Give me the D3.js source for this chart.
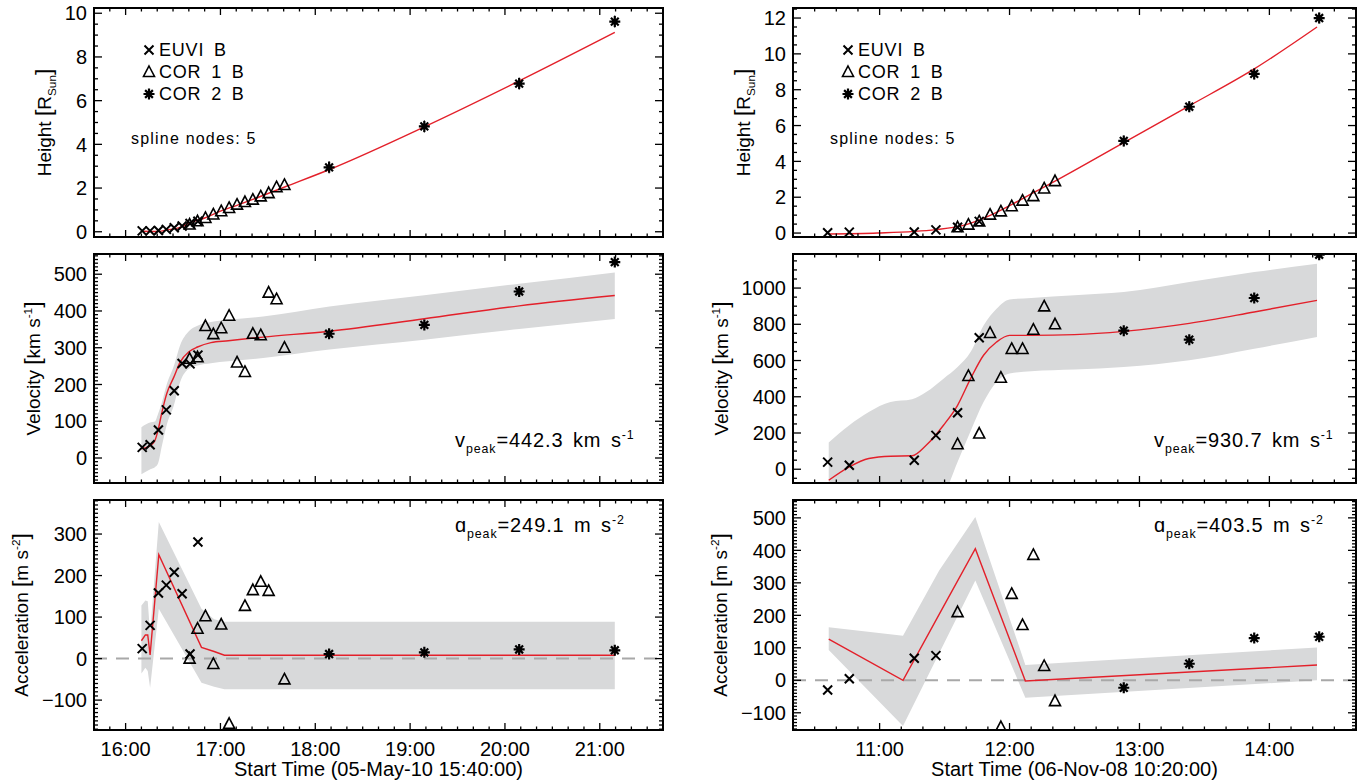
<!DOCTYPE html>
<html>
<head>
<meta charset="utf-8">
<script src="https://cdn.jsdelivr.net/npm/d3@7"></script>
<style>
  body { margin: 0; background: #fff; }
  svg { display: block; font-family: "Liberation Sans", Arial, sans-serif; }
</style>
</head>
<body>
<svg id="chart" width="1368" height="782"></svg>
<script>
// ---- left event: 05-May-10 ----
const leftEuviTime = ["16:10:30","16:15:30","16:20:45","16:25:45","16:30:45","16:35:45","16:40:45","16:45:45"];
const leftEuviHeight = [0.04, 0.04, 0.06, 0.11, 0.18, 0.26, 0.38, 0.48];
const leftEuviVelocity = [29, 36, 76, 131, 183, 257, 256, 280];
const leftEuviAccel = [24, 80, 158, 177, 208, 156, 11, 281];

const leftCor1Time = ["16:40:30","16:45:30","16:50:30","16:55:30","17:00:30","17:05:30","17:10:30",
                      "17:15:30","17:20:30","17:25:30","17:30:30","17:35:30","17:40:30"];
const leftCor1Height = [0.33, 0.48, 0.63, 0.79, 0.94, 1.09, 1.24, 1.36, 1.47, 1.62, 1.77, 2.04, 2.14];
const leftCor1Velocity = [270, 274, 359, 337, 353, 387, 260, 234, 338, 334, 450, 432, 300];
const leftCor1Accel = [0, 72, 102, -13, 82, -157, null, 127, 165, 185, 163, null, -50];

const leftCor2Time = ["18:08:45","19:09:00","20:09:00","21:09:30"];
const leftCor2Height = [2.95, 4.82, 6.78, 9.62];
const leftCor2HeightErr = [0.28, 0.28, 0.28, 0.28];
const leftCor2Velocity = [338, 362, 453, 533];
const leftCor2Accel = [11, 15, 22, 20];

const leftFitHTime = ["16:10:00","16:20:00","16:26:00","16:35:00","16:40:30","16:50:00","17:00:00",
                      "17:10:00","17:20:00","17:41:00","18:09:00","19:09:00","20:09:00","21:09:30"];
const leftFitHeight = [0.02, 0.01, 0.08, 0.21, 0.41, 0.63, 0.94, 1.2, 1.47, 2.06, 2.85, 4.8, 6.9, 9.12];

const leftFitVTime = ["16:10:00","16:16:00","16:18:30","16:20:30","16:23:00","16:26:00","16:30:30","16:34:30",
                      "16:40:00","16:45:30","16:54:00","17:05:00","17:27:00","18:09:00","19:09:00","20:09:00","21:09:30"];
const leftFitVelocity = [25, 35, 47, 75, 125, 175, 220, 261, 289, 302, 314, 319, 329, 345, 379, 414, 442];
const leftFitVUpper = [84, 97, 99, 120, 152, 200, 250, 307, 345, 360, 370, 376, 385, 412, 443, 474, 505];
const leftFitVLower = [-44, -30, -25, -15, 34, 90, 143, 207, 243, 252, 258, 263, 272, 295, 322, 351, 378];

const leftFitATime = ["16:10:00","16:12:30","16:14:00","16:15:30","16:21:00","16:48:00","16:56:00","17:02:30","21:09:30"];
const leftFitAccel = [43, 57, 57, 9, 250, 27, 17, 8, 8];
const leftFitAUpper = [128, 140, 138, 60, 329, 120, 95, 89, 89];
const leftFitALower = [-36, -22, -30, -70, 120, -58, -68, -74, -74];

// ---- right event: 06-Nov-08 ----
const rightEuviTime = ["10:36:00","10:46:00","11:16:00","11:26:00","11:36:00","11:46:00"];
const rightEuviHeight = [0.02, 0.05, 0.06, 0.18, 0.32, 0.65];
const rightEuviVelocity = [39, 22, 50, 187, 312, 726];
const rightEuviAccel = [-30, 5, 68, 76, null, null];

const rightCor1Time = ["11:36:00","11:41:00","11:46:00","11:51:00","11:56:00","12:01:00","12:06:00","12:11:00","12:16:00","12:21:00"];
const rightCor1Height = [0.32, 0.47, 0.65, 1.03, 1.21, 1.5, 1.81, 2.06, 2.49, 2.9];
const rightCor1Velocity = [138, 515, 197, 752, 505, 664, 664, 770, 899, 800];
const rightCor1Accel = [210, null, null, null, -144, 266, 170, 386, 44, -64];

const rightCor2Time = ["12:52:45","13:23:00","13:53:00","14:23:00"];
const rightCor2Height = [5.14, 7.05, 8.88, 12.0];
const rightCor2HeightErr = [0.3, 0.3, 0.3, 0.3];
const rightCor2Velocity = [765, 715, 945, 1184];
const rightCor2Accel = [-23, 51, 130, 134];

const rightFitHTime = ["10:36:30","10:59:00","11:26:00","11:40:00","11:50:00","12:00:00","12:10:00","12:21:00",
                       "12:52:45","13:23:00","13:53:00","14:22:00"];
const rightFitHeight = [-0.05, 0.0, 0.19, 0.47, 0.93, 1.53, 2.19, 2.9, 5.05, 7.1, 9.16, 11.5];

const rightFitVTime = ["10:36:30","10:46:00","10:55:00","11:05:00","11:15:00","11:21:30","11:29:30","11:36:00","11:42:00",
                       "11:48:00","11:54:00","12:00:00","12:10:00","12:30:00","12:52:45","13:23:00","13:53:00","14:22:00"];
const rightFitVelocity = [-61, 13, 59, 72, 74, 132, 243, 353, 500, 629, 702, 739, 739, 743, 761, 805, 868, 932];
const rightFitVUpper = [147, 243, 316, 371, 386, 426, 500, 564, 647, 794, 886, 937, 945, 960, 978, 1033, 1088, 1134];
const rightFitVLower = [-600, -520, -450, -380, -300, -230, -146, 40, 210, 371, 482, 528, 541, 550, 564, 601, 665, 730];

const rightFitATime = ["10:36:30","11:10:48","11:27:30","11:44:12","12:07:18","14:22:00"];
const rightFitAccel = [127, 0, 203, 405, -2, 47];
const rightFitAUpper = [163, 137, 338, 503, 47, 101];
const rightFitALower = [93, -141, 83, 307, -54, 0];

// axis ticks
const heightTicksLeft = [0, 2, 4, 6, 8, 10];
const heightTicksRight = [0, 2, 4, 6, 8, 10, 12];
const velocityTicksLeft = [0, 100, 200, 300, 400, 500];
const velocityTicksRight = [0, 200, 400, 600, 800, 1000];
const accelTicksLeft = [-100, 0, 100, 200, 300];
const accelTicksRight = [-100, 0, 100, 200, 300, 400, 500];

const legendLabels = ["EUVI B", "COR 1 B", "COR 2 B"];

// ---------------------------------------------------------------
const svg = d3.select("#chart");
const RED = "#e3202a";
const BAND = "#d8d9da";
let clipCount = 0;

const dayParser = day => t => d3.timeParse("%Y-%m-%d %H:%M:%S")(`${day} ${t}`);
const pL = dayParser("2010-05-05");
const pR = dayParser("2008-11-06");

function zipPts(times, vals, parse, err) {
    return times.map((t, i) => ({ t: parse(t), v: vals[i], e: err ? err[i] : 0 }))
        .filter(d => d.v !== null);
}

function marker(g, type, cx, cy) {
    if (type === "x") {
        g.append("path")
            .attr("d", `M${cx - 4.5},${cy - 4.5}L${cx + 4.5},${cy + 4.5}M${cx - 4.5},${cy + 4.5}L${cx + 4.5},${cy - 4.5}`)
            .attr("stroke", "#000").attr("stroke-width", 2).attr("fill", "none");
    } else if (type === "tri") {
        g.append("path")
            .attr("d", `M${cx},${cy - 6}L${cx + 5.5},${cy + 4.5}L${cx - 5.5},${cy + 4.5}Z`)
            .attr("stroke", "#000").attr("stroke-width", 1.6).attr("fill", "none");
    } else {
        const r = 5.5;
        let d = "";
        for (let k = 0; k < 4; k++) {
            const a = k * Math.PI / 4;
            d += `M${cx - r * Math.cos(a)},${cy - r * Math.sin(a)}L${cx + r * Math.cos(a)},${cy + r * Math.sin(a)}`;
        }
        g.append("path").attr("d", d).attr("stroke", "#000").attr("stroke-width", 2.2).attr("fill", "none");
    }
}

// text with sub/superscript segments: [text, "n"|"sub"|"sup"|"big"]
function richText(sel, segs, size) {
    let shift = 0;
    segs.forEach(([txt, kind]) => {
        const ts = sel.append("tspan").text(txt);
        let target = 0;
        if (kind === "sub") { ts.attr("font-size", size * 0.62); target = size * 0.28; }
        else if (kind === "sup") { ts.attr("font-size", size * 0.62); target = -size * 0.42; }
        else if (kind === "big") ts.attr("font-size", size * 1.2);
        else ts.attr("font-size", size);
        ts.attr("dy", target - shift);
        shift = target;
    });
}

function panel(o) {
    const x = d3.scaleTime().domain(o.xDomain).range([o.x0, o.x1]);
    const y = d3.scaleLinear().domain(o.yDomain).range([o.y1, o.y0]);
    const g = svg.append("g");
    const clipId = "clip" + (clipCount++);
    svg.append("clipPath").attr("id", clipId)
        .append("rect").attr("x", o.x0).attr("y", o.y0)
        .attr("width", o.x1 - o.x0).attr("height", o.y1 - o.y0);
    const plot = g.append("g").attr("clip-path", `url(#${clipId})`);

    if (o.band) {
        plot.append("path").datum(o.band)
            .attr("d", d3.area().x(d => x(d.t)).y0(d => y(d.lo)).y1(d => y(d.hi)).curve(o.curve))
            .attr("fill", BAND);
    }
    if (o.zero) {
        plot.append("line")
            .attr("x1", o.x0).attr("x2", o.x1).attr("y1", y(0)).attr("y2", y(0))
            .attr("stroke", "#a8a8a8").attr("stroke-width", 2).attr("stroke-dasharray", "13,9");
    }
    plot.append("path").datum(o.fit)
        .attr("d", d3.line().x(d => x(d.t)).y(d => y(d.v)).curve(o.curve))
        .attr("fill", "none").attr("stroke", RED).attr("stroke-width", 1.4);

    o.series.forEach(s => {
        s.data.forEach(d => {
            if (d.e) {
                plot.append("line")
                    .attr("x1", x(d.t)).attr("x2", x(d.t))
                    .attr("y1", y(d.v - d.e)).attr("y2", y(d.v + d.e))
                    .attr("stroke", "#000").attr("stroke-width", 1);
            }
            marker(plot, s.type, x(d.t), y(d.v));
        });
    });

    // ticks on all four sides, pointing in
    const tk = g.append("g").attr("stroke", "#000").attr("stroke-width", 1.3);
    const xMaj = x.ticks(d3.timeHour.every(1));
    const xMin = x.ticks(d3.timeMinute.every(o.xMinor));
    xMin.forEach(t => {
        const len = xMaj.some(m => +m === +t) ? 7 : 3.5;
        tk.append("line").attr("x1", x(t)).attr("x2", x(t)).attr("y1", o.y1).attr("y2", o.y1 - len);
        tk.append("line").attr("x1", x(t)).attr("x2", x(t)).attr("y1", o.y0).attr("y2", o.y0 + len);
    });
    const [ylo, yhi] = o.yDomain;
    const yMin = d3.range(Math.ceil(ylo / o.yMinor) * o.yMinor, yhi, o.yMinor);
    yMin.forEach(v => {
        const len = o.yTicks.some(m => Math.abs(m - v) < 1e-6) ? 8 : 4;
        tk.append("line").attr("y1", y(v)).attr("y2", y(v)).attr("x1", o.x0).attr("x2", o.x0 + len);
        tk.append("line").attr("y1", y(v)).attr("y2", y(v)).attr("x1", o.x1).attr("x2", o.x1 - len);
    });

    g.append("rect").attr("x", o.x0).attr("y", o.y0)
        .attr("width", o.x1 - o.x0).attr("height", o.y1 - o.y0)
        .attr("fill", "none").attr("stroke", "#000").attr("stroke-width", 2);

    // y tick labels
    const yLab = g.selectAll(null).data(o.yTicks).enter().append("text")
        .attr("x", o.x0 - 7).attr("y", d => y(d)).attr("dy", "0.36em")
        .attr("text-anchor", "end").attr("font-size", 20)
        .text(d => d < 0 ? "\u2212" + Math.abs(d) : d);
    const maxW = d3.max(yLab.nodes(), n => n.getComputedTextLength());

    if (o.xLabels) {
        const fmt = d3.timeFormat("%H:%M");
        g.selectAll(null).data(xMaj).enter().append("text")
            .attr("x", d => x(d)).attr("y", o.y1 + 26)
            .attr("text-anchor", "middle").attr("font-size", 20)
            .text(fmt);
        g.append("text")
            .attr("x", (o.x0 + o.x1) / 2).attr("y", o.y1 + 46)
            .attr("text-anchor", "middle").attr("font-size", 20)
            .text(o.xTitle);
    }

    // y title, placed just left of the widest tick label
    const yt = g.append("text")
        .attr("transform", `translate(${o.x0 - 7 - maxW - 14},${(o.y0 + o.y1) / 2}) rotate(-90)`)
        .attr("text-anchor", "middle");
    richText(yt, o.yTitle, 19);

    if (o.legend) {
        const types = ["x", "tri", "star"];
        legendLabels.forEach((lab, i) => {
            const ly = o.y0 + 42 + i * 22;
            marker(g, types[i], o.x0 + 55, ly);
            g.append("text").attr("x", o.x0 + 65).attr("y", ly).attr("dy", "0.36em")
                .attr("font-size", 18).attr("letter-spacing", 0.8).attr("word-spacing", 4).text(lab);
        });
        g.append("text").attr("x", o.x0 + 37).attr("y", o.y0 + 130).attr("dy", "0.36em")
            .attr("font-size", 16).attr("letter-spacing", 1.2).text("spline nodes: 5");
    }
    if (o.note) {
        const nt = g.append("text").attr("x", o.x0 + 361).attr("y", o.note.y)
            .attr("letter-spacing", 0.9).attr("word-spacing", 3);
        richText(nt, o.note.segs, 20);
    }
}

function bandOf(times, lo, hi, parse) {
    return times.map((t, i) => ({ t: parse(t), lo: lo[i], hi: hi[i] }));
}

const L = { x0: 94, x1: 663, xDomain: [pL("15:40:00"), pL("21:40:00")], xMinor: 10,
            xTitle: "Start Time (05-May-10 15:40:00)" };
const R = { x0: 793, x1: 1356, xDomain: [pR("10:20:00"), pR("14:40:00")], xMinor: 10,
            xTitle: "Start Time (06-Nov-08 10:20:00)" };
const rows = [[8, 237], [254, 483], [500, 730]];

const hTitle = [["Height ", "n"], ["[", "big"], ["R", "n"], ["Sun", "sub"], ["]", "big"]];
const vTitle = [["Velocity ", "n"], ["[", "big"], ["km s", "n"], ["-1", "sup"], ["]", "big"]];
const aTitle = [["Acceleration ", "n"], ["[", "big"], ["m s", "n"], ["-2", "sup"], ["]", "big"]];

[[L, pL, "left"], [R, pR, "right"]].forEach(([C, p, side]) => {
    const isL = side === "left";
    const euviT = isL ? leftEuviTime : rightEuviTime;
    const cor1T = isL ? leftCor1Time : rightCor1Time;
    const cor2T = isL ? leftCor2Time : rightCor2Time;

    // height
    panel(Object.assign({}, C, {
        y0: rows[0][0], y1: rows[0][1],
        yDomain: isL ? [-0.24, 10.24] : [-0.22, 12.56],
        yTicks: isL ? heightTicksLeft : heightTicksRight, yMinor: 0.5,
        yTitle: hTitle, legend: true, curve: d3.curveMonotoneX,
        fit: zipPts(isL ? leftFitHTime : rightFitHTime, isL ? leftFitHeight : rightFitHeight, p),
        series: [
            { type: "x", data: zipPts(euviT, isL ? leftEuviHeight : rightEuviHeight, p) },
            { type: "tri", data: zipPts(cor1T, isL ? leftCor1Height : rightCor1Height, p) },
            { type: "star", data: zipPts(cor2T, isL ? leftCor2Height : rightCor2Height, p,
                                         isL ? leftCor2HeightErr : rightCor2HeightErr) }
        ]
    }));

    // velocity
    panel(Object.assign({}, C, {
        y0: rows[1][0], y1: rows[1][1],
        yDomain: isL ? [-68, 555] : [-76, 1188],
        yTicks: isL ? velocityTicksLeft : velocityTicksRight, yMinor: isL ? 10 : 50,
        yTitle: vTitle, curve: d3.curveMonotoneX,
        fit: zipPts(isL ? leftFitVTime : rightFitVTime, isL ? leftFitVelocity : rightFitVelocity, p),
        band: bandOf(isL ? leftFitVTime : rightFitVTime, isL ? leftFitVLower : rightFitVLower,
                     isL ? leftFitVUpper : rightFitVUpper, p),
        series: [
            { type: "x", data: zipPts(euviT, isL ? leftEuviVelocity : rightEuviVelocity, p) },
            { type: "tri", data: zipPts(cor1T, isL ? leftCor1Velocity : rightCor1Velocity, p) },
            { type: "star", data: zipPts(cor2T, isL ? leftCor2Velocity : rightCor2Velocity, p) }
        ],
        note: { y: 447, segs: [["v", "n"], ["peak", "sub"], [isL ? "=442.3 km s" : "=930.7 km s", "n"], ["-1", "sup"]] }
    }));

    // acceleration
    panel(Object.assign({}, C, {
        y0: rows[2][0], y1: rows[2][1],
        yDomain: isL ? [-172, 382] : [-153, 555],
        yTicks: isL ? accelTicksLeft : accelTicksRight, yMinor: 10,
        yTitle: aTitle, curve: d3.curveLinear, zero: true, xLabels: true,
        fit: zipPts(isL ? leftFitATime : rightFitATime, isL ? leftFitAccel : rightFitAccel, p),
        band: bandOf(isL ? leftFitATime : rightFitATime, isL ? leftFitALower : rightFitALower,
                     isL ? leftFitAUpper : rightFitAUpper, p),
        series: [
            { type: "x", data: zipPts(euviT, isL ? leftEuviAccel : rightEuviAccel, p) },
            { type: "tri", data: zipPts(cor1T, isL ? leftCor1Accel : rightCor1Accel, p) },
            { type: "star", data: zipPts(cor2T, isL ? leftCor2Accel : rightCor2Accel, p) }
        ],
        note: { y: 532, segs: [["\u0251", "n"], ["peak", "sub"], [isL ? "=249.1 m s" : "=403.5 m s", "n"], ["-2", "sup"]] }
    }));
});
</script>
</body>
</html>
